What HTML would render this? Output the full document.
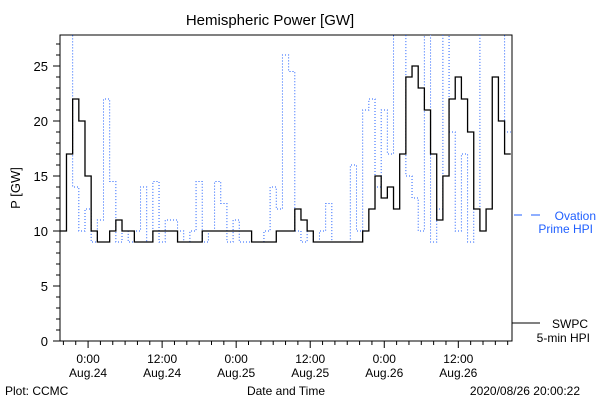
<!DOCTYPE html>
<html><head><meta charset="utf-8"><style>
body{margin:0;background:#fff;}
svg text{font-family:"Liberation Sans",sans-serif;}
</style></head><body>
<svg id="chart" width="600" height="400" viewBox="0 0 600 400" xmlns="http://www.w3.org/2000/svg">
<rect x="0" y="0" width="600" height="400" fill="#fff"/>
<text x="270" y="25" font-size="15" text-anchor="middle">Hemispheric Power [GW]</text>
<text x="0" y="0" font-size="13" text-anchor="middle" transform="translate(20,188) rotate(-90)">P [GW]</text>
<text x="286" y="395" font-size="12" text-anchor="middle">Date and Time</text>
<text x="5" y="395" font-size="12">Plot: CCMC</text>
<text x="580" y="395" font-size="12" text-anchor="end">2020/08/26 20:00:22</text>
<g id="axes"></g>
<g id="series"></g>
<g>
<line x1="514" y1="215" x2="522" y2="215" stroke="#1f5fff"/>
<line x1="531" y1="215" x2="540" y2="215" stroke="#1f5fff"/>
<text x="596" y="220" font-size="12" fill="#1f5fff" text-anchor="end">Ovation</text>
<text x="593" y="233" font-size="12" fill="#1f5fff" text-anchor="end">Prime HPI</text>
</g>
<g>
<line x1="512" y1="323" x2="540" y2="323" stroke="#000"/>
<text x="588" y="328" font-size="12" text-anchor="end">SWPC</text>
<text x="590" y="342" font-size="12" text-anchor="end">5-min HPI</text>
</g>
</svg>
<script>
const hours = [-4,-3,-2,-1,0,1,2,3,4,5,6,7,8,9,10,11,12,13,14,15,16,17,18,19,20,21,22,23,24,25,26,27,28,29,30,31,32,33,34,35,36,37,38,39,40,41,42,43,44,45,46,47,48,49,50,51,52,53,54,55,56,57,58,59,60,61,62,63,64,65,66,67,68];
const swpc = [10,17,22,20,15,10,9,9,10,11,10,10,9,9,9,10,10,10,10,9,9,9,9,10,10,10,10,10,10,10,10,9,9,9,9,10,10,10,12,11,10,9,9,9,9,9,9,9,9,10,12,15,13,14,12,17,24,25,23,21,17,11,15,22,24,22,19,12,10,12,24,20,17];
const ovation = [28,28,14,10,12,9,11,22,14.5,9,10,9,10,14,9,14.5,9,11,11,10,9,10,14.5,9,10,14.5,12.5,9,11,9,9,9,9,10,14,12,26,24.5,10,9,10,9,10,12.5,9,9,9,16,10,21,22,14,21,17,28,28,15,13,10,28,9,12,28,19,10,17,9,12,28,28,28,28,19];
const yTicks = [0,5,10,15,20,25];
const xTickHours = [0,12,24,36,48,60];
const xTickLabels = [["0:00","Aug.24"],["12:00","Aug.24"],["0:00","Aug.25"],["12:00","Aug.25"],["0:00","Aug.26"],["12:00","Aug.26"]];

const L=60,R=512,T=35,B=341;
const hMin=-4.55,hMax=68.7,yMax=(B-T)/11;
const sx=h=>L+(h-hMin)/(hMax-hMin)*(R-L);
const sy=v=>B-v*11;
const NS="http://www.w3.org/2000/svg";
function mk(tag,attrs,parent){const e=document.createElementNS(NS,tag);for(const k in attrs)e.setAttribute(k,attrs[k]);parent.appendChild(e);return e;}
const axes=document.getElementById('axes');
const ser=document.getElementById('series');

// clip
const defs=mk('defs',{},ser);
const cp=mk('clipPath',{id:'plotclip'},defs);
mk('rect',{x:L,y:T,width:R-L,height:B-T},cp);

// y ticks
for(let v=0;v<=27;v++){
  const y=sy(v);const major=v%5===0;
  const t=mk('line',{x1:L-(major?7:4),y1:y,x2:L,y2:y,stroke:'#000'},axes);
  
  
}
yTicks.forEach(v=>{
  const t=mk('text',{x:L-12,y:sy(v)+5,'font-size':13,'text-anchor':'end'},axes);
  t.textContent=v;
  
  
});
// x ticks
for(let h=-4;h<=68;h+=2){
  const x=sx(h);const major=h%12===0;
  const t=mk('line',{x1:x,y1:B,x2:x,y2:B+(major?7:4),stroke:'#000'},axes);
  
  
}
xTickHours.forEach((h,i)=>{
  const t=mk('text',{x:sx(h),y:B+22,'font-size':12,'text-anchor':'middle'},axes);
  t.textContent=xTickLabels[i][0];
  
  
  const t2=mk('text',{x:sx(h),y:B+36,'font-size':12,'text-anchor':'middle'},axes);
  t2.textContent=xTickLabels[i][1];
  
  
});
const frame=mk('path',{d:`M${L},${T}H${R}V${B}H${L}Z`,fill:'none',stroke:'#000'},axes);



function stepPath(vals){
  let d=`M${sx(hMin)},${sy(vals[0])}`;
  hours.forEach((h,i)=>{
    const x0=i===0?sx(hMin):sx(h-0.5);
    d+=`L${x0},${sy(vals[i])}L${sx(Math.min(h+0.5,hMax))},${sy(vals[i])}`;
  });
  return d;
}
const ov=mk('path',{d:stepPath(ovation),fill:'none',stroke:'#1f5fff','stroke-width':1,'stroke-dasharray':'1 2','clip-path':'url(#plotclip)'},ser);


const sw=mk('path',{d:stepPath(swpc),fill:'none',stroke:'#000','stroke-width':1.3,'clip-path':'url(#plotclip)'},ser);


</script>
</body></html>
